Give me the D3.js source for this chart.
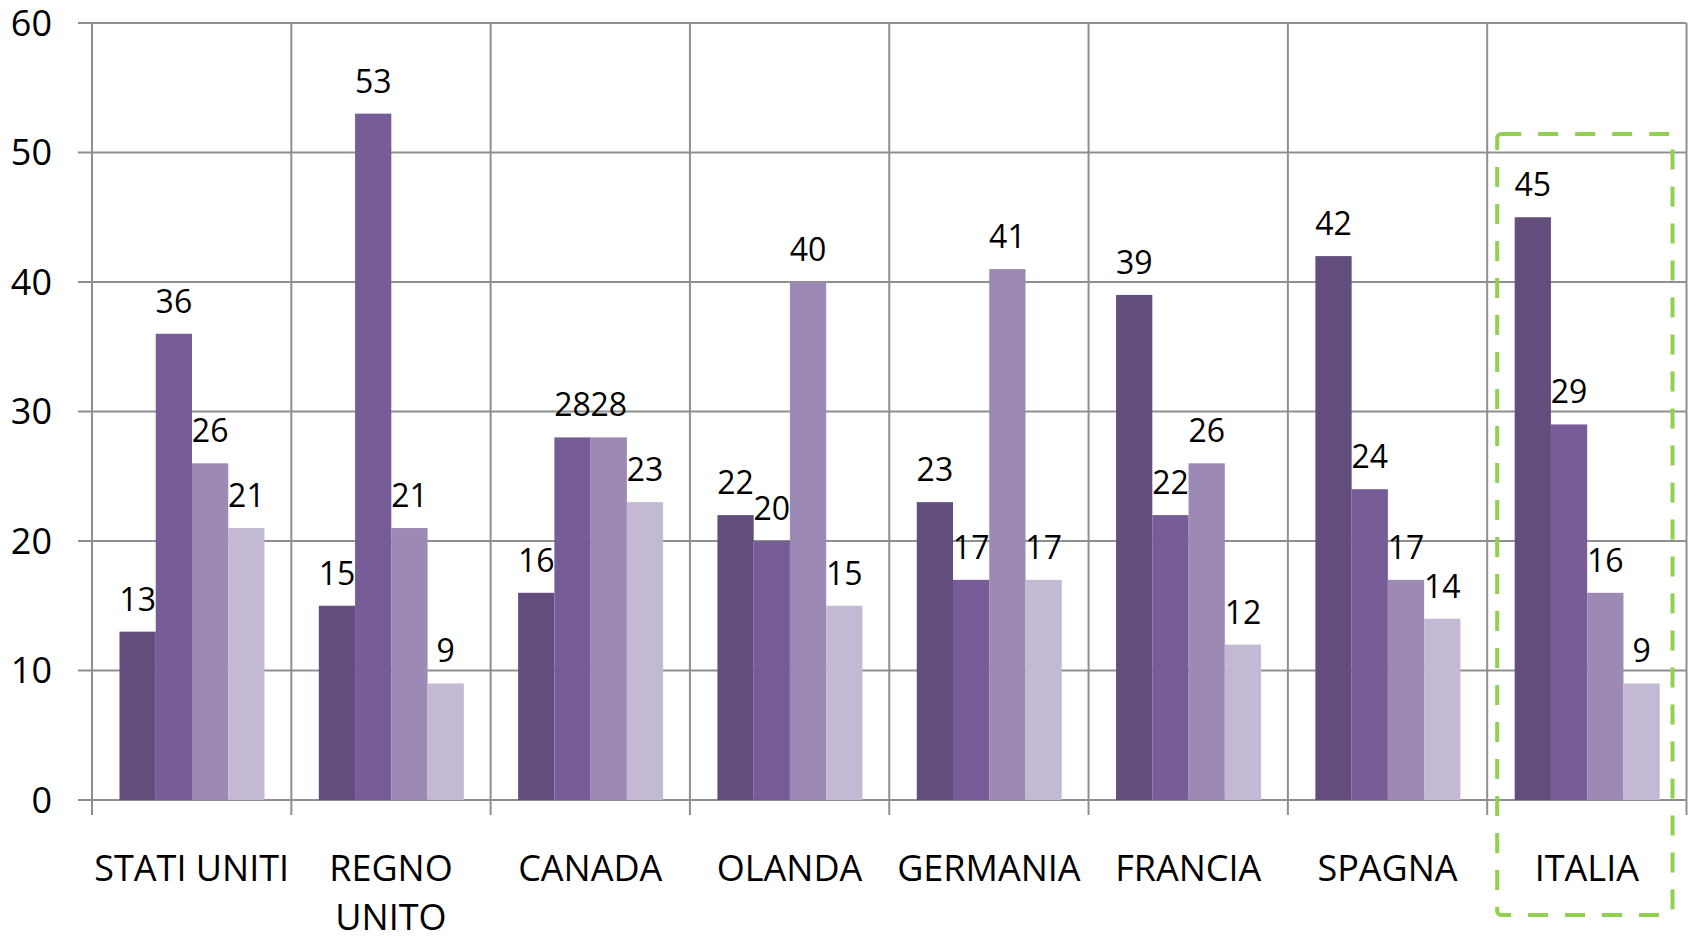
<!DOCTYPE html>
<html>
<head>
<meta charset="utf-8">
<script src="https://cdn.jsdelivr.net/npm/d3@7"></script>
<style>
  body { margin: 0; background: #fff; }
  svg text { font-family: "Open Sans", sans-serif; fill: #000; }
</style>
</head>
<body>
<svg width="1696" height="936"></svg>
<script>
// data
const categories = ["STATI UNITI", "REGNO UNITO", "CANADA", "OLANDA", "GERMANIA", "FRANCIA", "SPAGNA", "ITALIA"];
const seriesNames = ["s1", "s2", "s3", "s4"];
const s1 = [13, 15, 16, 22, 23, 39, 42, 45];
const s2 = [36, 53, 28, 20, 17, 22, 24, 29];
const s3 = [26, 21, 28, 40, 41, 26, 17, 16];
const s4 = [21, 9, 23, 15, 17, 12, 14, 9];
const yTicks = [0, 10, 20, 30, 40, 50, 60];
const colors = ["#624d7d", "#775d98", "#9c8ab4", "#c3b9d4"];
const highlighted = "ITALIA";

const seriesValues = [s1, s2, s3, s4];

let svg = d3.select("svg");

// scales
const y = d3.scaleLinear().domain([0, 60]).range([800, 23]);
const x0 = d3.scaleBand().domain(categories).range([92, 1686.5]).padding(0);
const x1 = d3.scaleBand().domain(seriesNames).range([27.5, 172.5]).padding(0);

// horizontal gridlines
svg.append("g")
  .selectAll("line")
  .data(yTicks)
  .enter()
  .append("line")
  .attr("x1", 78)
  .attr("x2", x0.range()[1])
  .attr("y1", d => y(d))
  .attr("y2", d => y(d))
  .attr("stroke", "#8f8f8f")
  .attr("stroke-width", 2);

// vertical separators
let vx = categories.map(c => x0(c)).concat([x0.range()[1]]);
svg.append("g")
  .selectAll("line")
  .data(vx)
  .enter()
  .append("line")
  .attr("x1", d => d)
  .attr("x2", d => d)
  .attr("y1", y(60))
  .attr("y2", y(0) + 15)
  .attr("stroke", "#8f8f8f")
  .attr("stroke-width", 2);

// y tick labels
svg.append("g")
  .selectAll("text")
  .data(yTicks)
  .enter()
  .append("text")
  .attr("x", 52)
  .attr("y", d => y(d))
  .attr("dy", "0.36em")
  .attr("text-anchor", "end")
  .style("font-size", "36px")
  .text(d => d);

// bars
let groups = svg.append("g")
  .selectAll("g")
  .data(categories)
  .enter()
  .append("g")
  .attr("transform", d => "translate(" + x0(d) + ",0)");

let barData = (c, i) => seriesNames.map((s, j) => ({ s: s, v: seriesValues[j][i], j: j }));

groups.selectAll("rect")
  .data(barData)
  .enter()
  .append("rect")
  .attr("x", d => x1(d.s))
  .attr("y", d => y(d.v))
  .attr("width", x1.bandwidth())
  .attr("height", d => y(0) - y(d.v))
  .attr("fill", d => colors[d.j]);

groups.selectAll("text")
  .data(barData)
  .enter()
  .append("text")
  .attr("x", d => x1(d.s) + x1.bandwidth() / 2)
  .attr("y", d => y(d.v) - 21)
  .attr("text-anchor", "middle")
  .style("font-size", "32px")
  .text(d => d.v);

// category labels (wrap on two lines where needed)
let catLabels = svg.append("g")
  .selectAll("text")
  .data(categories)
  .enter()
  .append("text")
  .attr("x", d => x0(d) + x0.bandwidth() / 2)
  .attr("y", 881)
  .attr("text-anchor", "middle")
  .style("font-size", "36px");

catLabels.each(function (d) {
  let t = d3.select(this);
  let lines = d === "REGNO UNITO" ? ["REGNO", "UNITO"] : [d];
  lines.forEach((l, i) => {
    t.append("tspan")
      .attr("x", x0(d) + x0.bandwidth() / 2)
      .attr("dy", i === 0 ? 0 : 49)
      .text(l);
  });
});

// dashed highlight box around ITALIA
svg.append("rect")
  .attr("x", x0(highlighted) + 10)
  .attr("y", 134)
  .attr("width", x0.bandwidth() - 24)
  .attr("height", 781)
  .attr("rx", 4)
  .attr("fill", "none")
  .attr("stroke", "#92d050")
  .attr("stroke-width", 4)
  .attr("stroke-dasharray", "20 17");
</script>
</body>
</html>
